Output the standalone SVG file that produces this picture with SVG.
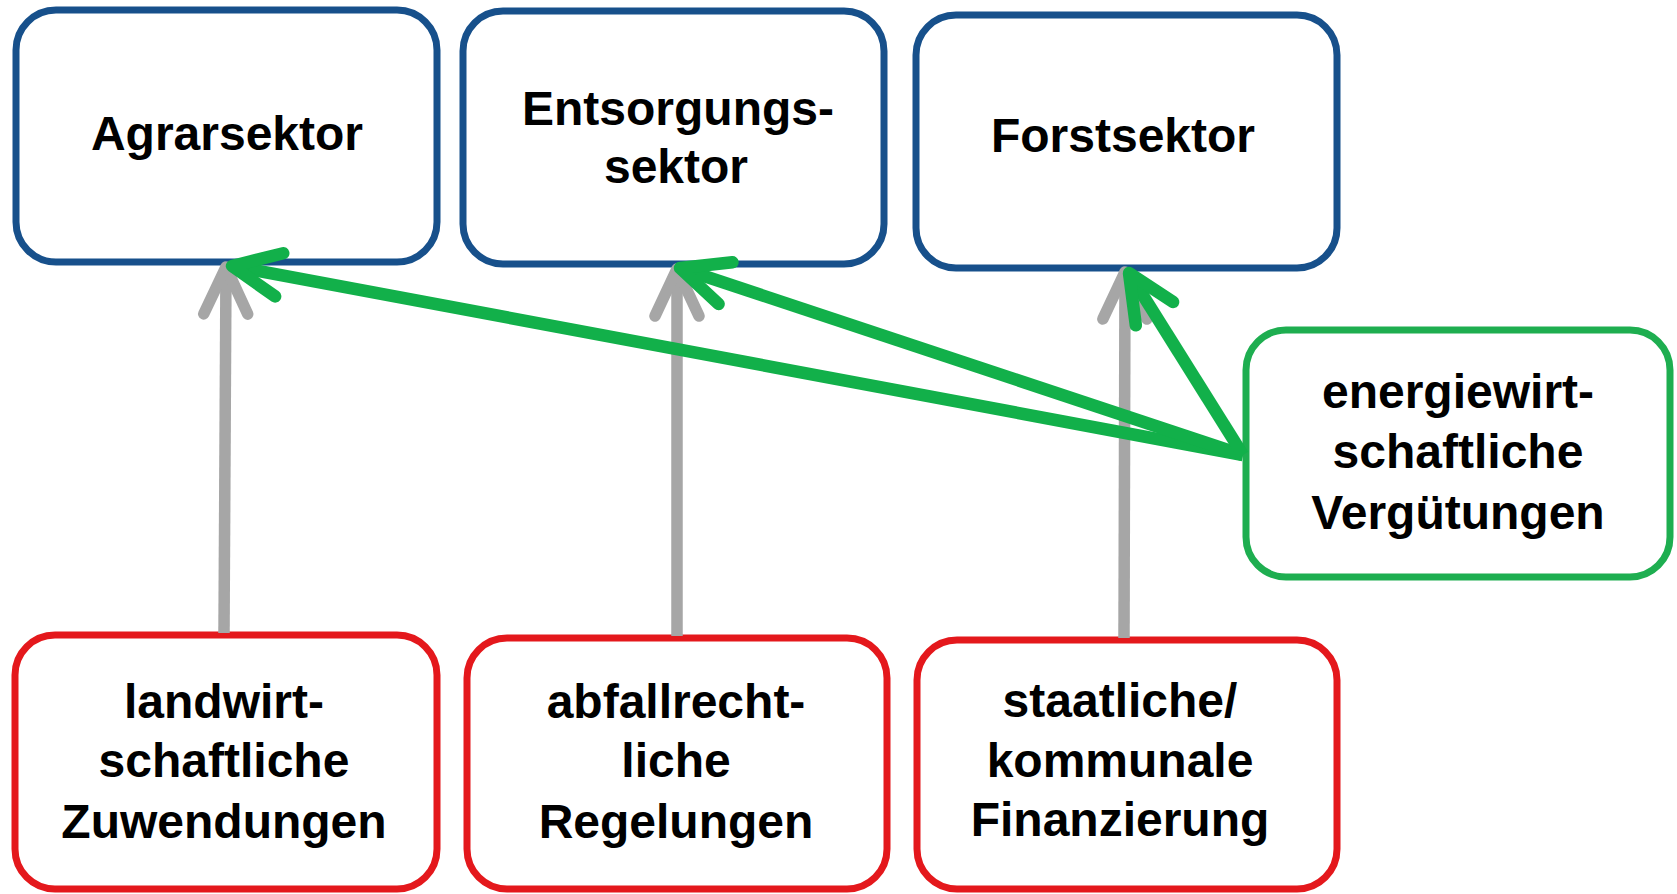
<svg xmlns="http://www.w3.org/2000/svg" width="1677" height="894" viewBox="0 0 1677 894">
<style>
.box{fill:#fff;stroke-width:7}
.blue{stroke:#17508B}
.red{stroke:#E4181C}
.grn{stroke:#1EAE50}
.t{font-family:"Liberation Sans",Arial,sans-serif;font-weight:bold;font-size:48px;fill:#000;text-anchor:middle}
.gray{stroke:#A6A6A6;stroke-width:11.5;fill:none}
.green{stroke:#12B04A;stroke-width:12.5;fill:none}
</style>
<defs>
<marker id="ag" markerUnits="userSpaceOnUse" markerWidth="120" markerHeight="120" viewBox="-60 -60 120 120" refX="0" refY="0" orient="auto" overflow="visible">
<path d="M-47,-22 L0,0 L-47,22" fill="none" stroke="#A6A6A6" stroke-width="11.5" stroke-linecap="round" stroke-linejoin="round"/>
</marker>
<marker id="an" markerUnits="userSpaceOnUse" markerWidth="120" markerHeight="120" viewBox="-60 -60 120 120" refX="0" refY="0" orient="auto" overflow="visible">
<path d="M-48,-22 L0,0 L-48,22" fill="none" stroke="#12B04A" stroke-width="12.5" stroke-linecap="round" stroke-linejoin="round"/>
</marker>
</defs>
<rect width="1677" height="894" fill="#fff"/>
<g id="n-agrar"><rect class="box blue" x="16" y="10" width="421" height="252" rx="40"/><text class="t" x="227" y="150">Agrarsektor</text></g>
<g id="n-entsorgung"><rect class="box blue" x="463" y="11" width="421" height="253" rx="40"/><text class="t" x="678" y="125">Entsorgungs-</text><text class="t" x="676" y="183">sektor</text></g>
<g id="n-forst"><rect class="box blue" x="916" y="15" width="421" height="253" rx="40"/><text class="t" x="1123" y="152">Forstsektor</text></g>
<g id="n-energie"><rect class="box grn" x="1246" y="330" width="424" height="247" rx="40"/><text class="t" x="1458" y="408">energiewirt-</text><text class="t" x="1458" y="468">schaftliche</text><text class="t" x="1458" y="529">Vergütungen</text></g>
<g id="n-landwirt"><rect class="box red" x="15" y="635" width="422" height="254" rx="40"/><text class="t" x="224" y="718">landwirt-</text><text class="t" x="224" y="777">schaftliche</text><text class="t" x="224" y="838">Zuwendungen</text></g>
<g id="n-abfall"><rect class="box red" x="467" y="638" width="420" height="251" rx="40"/><text class="t" x="676" y="718">abfallrecht-</text><text class="t" x="676" y="777">liche</text><text class="t" x="676" y="838">Regelungen</text></g>
<g id="n-staat"><rect class="box red" x="917" y="640" width="420" height="249" rx="40"/><text class="t" x="1120" y="717">staatliche/</text><text class="t" x="1120" y="777">kommunale</text><text class="t" x="1120" y="836">Finanzierung</text></g>
<g id="connectors">
<line class="gray" x1="224" y1="633" x2="226" y2="267" marker-end="url(#ag)"/>
<line class="gray" x1="677" y1="636" x2="677" y2="269" marker-end="url(#ag)"/>
<line class="gray" x1="1124" y1="638" x2="1125" y2="272" marker-end="url(#ag)"/>
<line class="green" x1="1243" y1="455" x2="232" y2="266" marker-end="url(#an)"/>
<line class="green" x1="1243" y1="455" x2="680" y2="268" marker-end="url(#an)"/>
<line class="green" x1="1243" y1="455" x2="1129" y2="273" marker-end="url(#an)"/>
</g>
</svg>
